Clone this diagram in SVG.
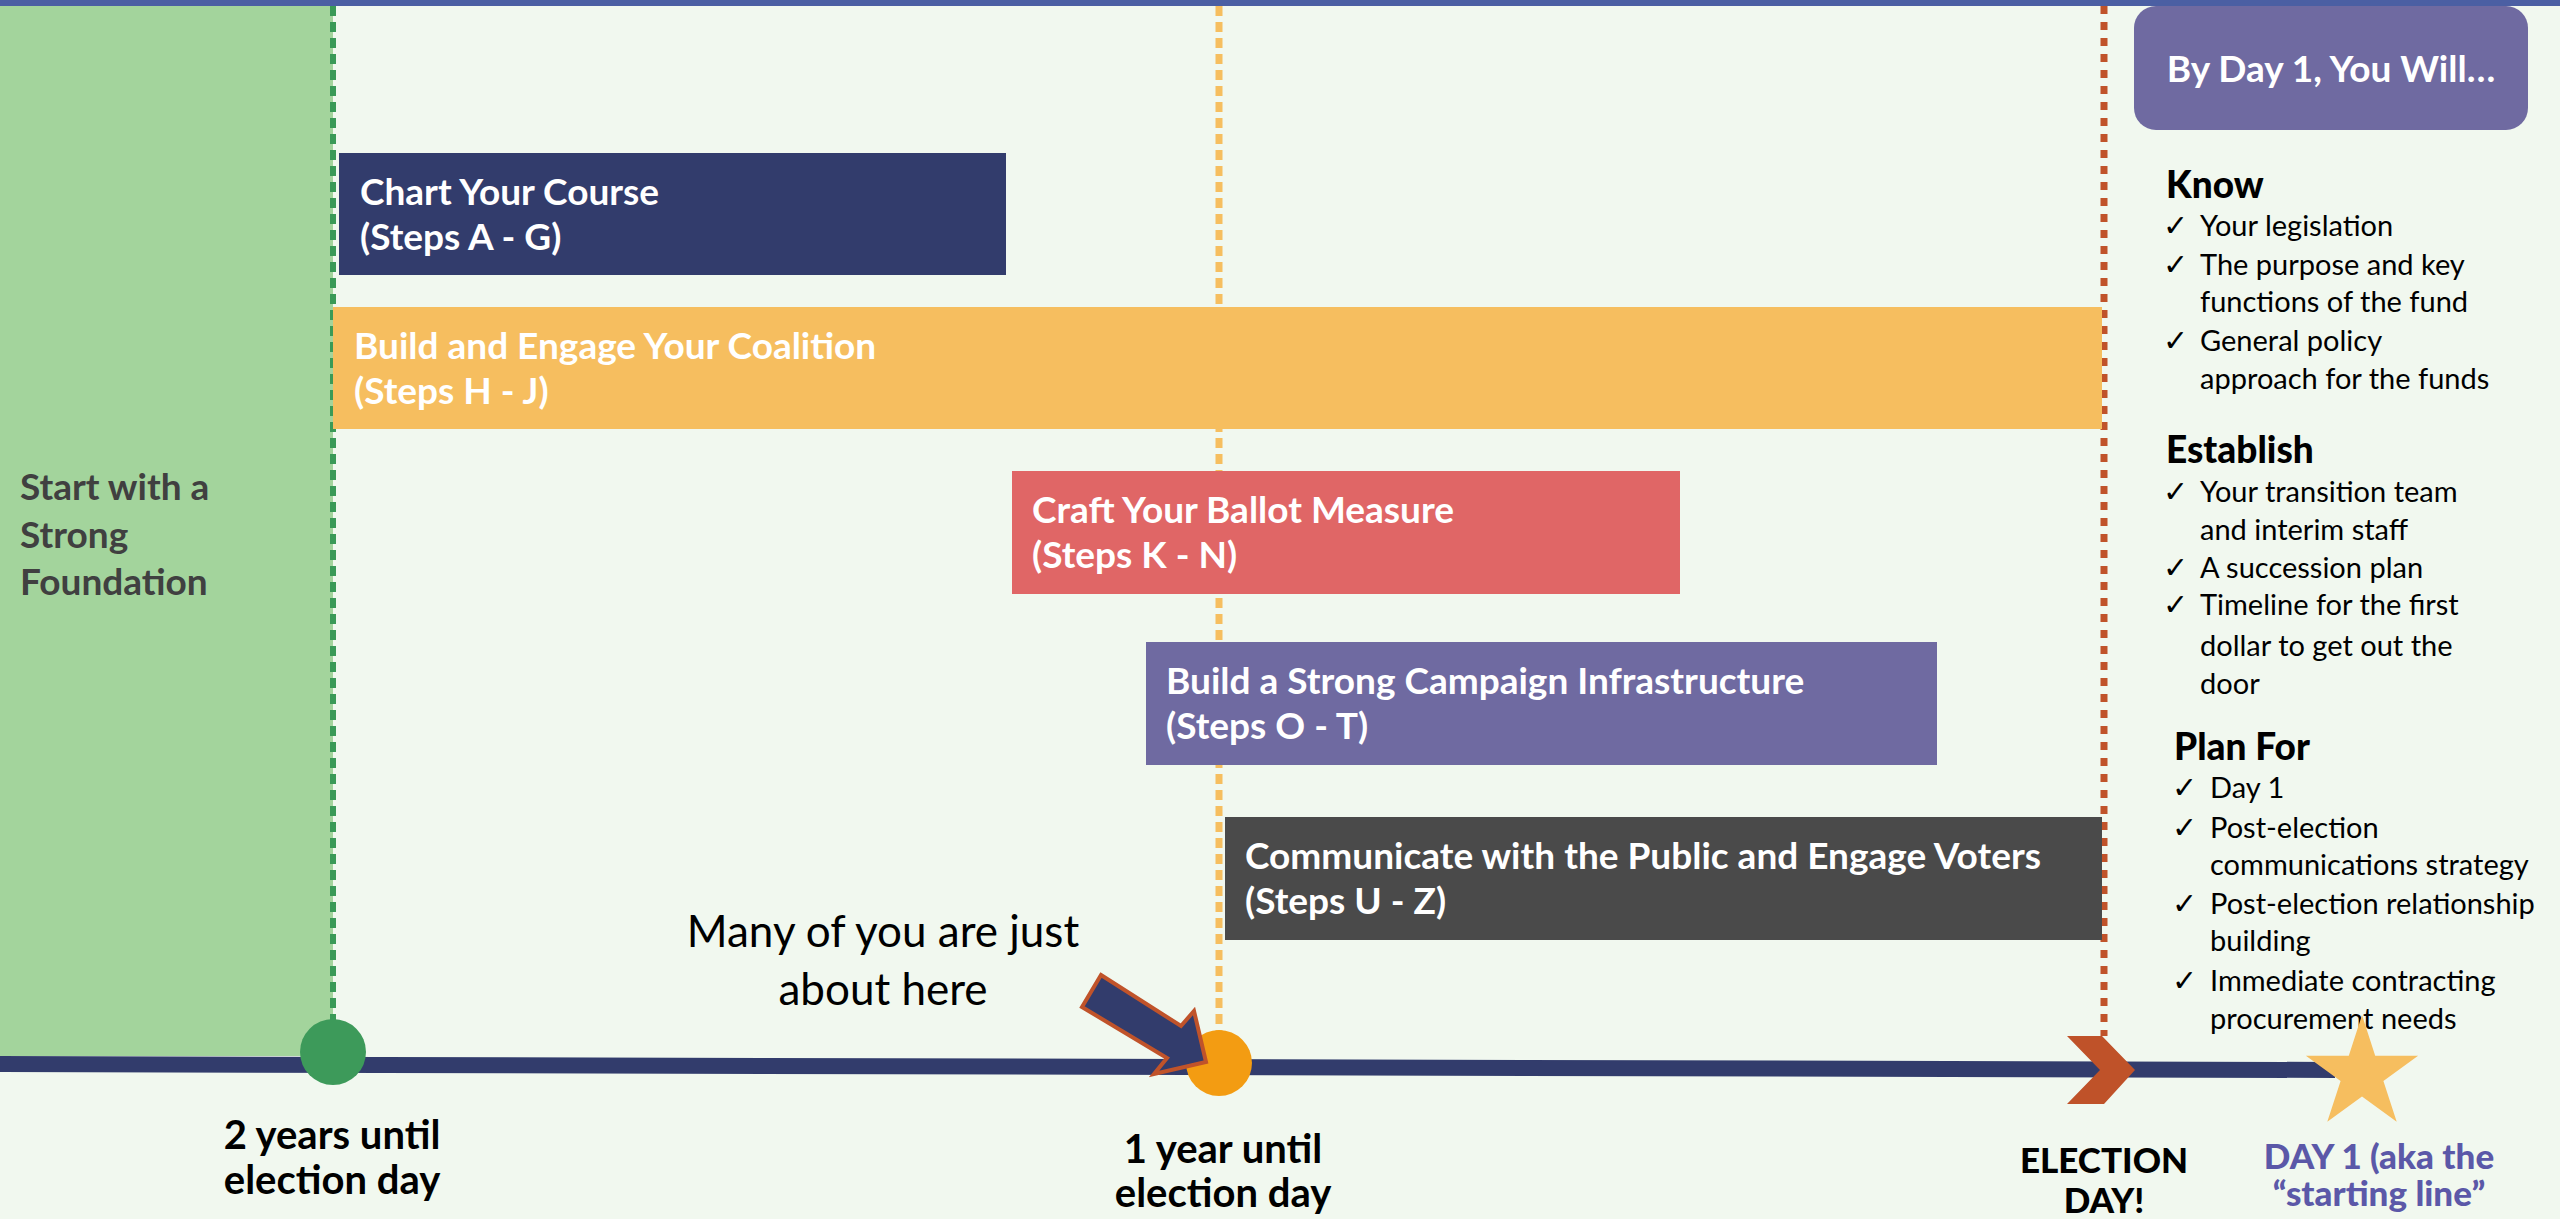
<svg xmlns="http://www.w3.org/2000/svg" width="2560" height="1219" viewBox="0 0 2560 1219">
<defs>
<style>
.t{font-family:"Lato","Liberation Sans",sans-serif}
.bt{font-family:"Lato","Liberation Sans",sans-serif;font-weight:bold;font-size:37px;fill:#ffffff}
.hd{font-family:"Lato","Liberation Sans",sans-serif;font-weight:900;font-size:37px;fill:#000000}
.it{font-family:"Lato","Liberation Sans",sans-serif;font-size:29px;fill:#000000}
.ck{font-family:"DejaVu Sans",sans-serif;font-size:30px;font-weight:bold;fill:#000000}
.lb{font-family:"Lato","Liberation Sans",sans-serif;font-weight:bold;font-size:40px;fill:#000000;text-anchor:middle}
</style>
</defs>
<rect x="0" y="0" width="2560" height="1219" fill="#F1F8EF"/>
<rect x="0" y="0" width="2560" height="6" fill="#4B5FA3"/>

<g id="foundation">
<rect x="0" y="6" width="333" height="1050" fill="#A3D49C"/>
<text class="t" font-weight="bold" font-size="37" fill="#404040"><tspan x="20" y="500">Start with a</tspan><tspan x="20" y="548">Strong</tspan><tspan x="20" y="595">Foundation</tspan></text>
</g>

<g id="connectors">
<line x1="333" y1="6" x2="333" y2="1025" stroke="#3A9A57" stroke-width="6" stroke-dasharray="10 6"/>
<line x1="1219" y1="6" x2="1219" y2="1032" stroke="#F6BE5F" stroke-width="7" stroke-dasharray="10 6"/>
<line x1="2104" y1="6" x2="2104" y2="1036" stroke="#C0532A" stroke-width="7" stroke-dasharray="8 8"/>
<line x1="0" y1="1064" x2="2335" y2="1070" stroke="#323C6C" stroke-width="16"/>
</g>

<g id="chart-your-course">
<rect x="339" y="153" width="667" height="122" fill="#323C6C"/>
<text class="bt"><tspan x="360" y="205">Chart Your Course</tspan><tspan x="360" y="250">(Steps A - G)</tspan></text>
</g>

<g id="build-coalition">
<rect x="333" y="307" width="1769" height="122" fill="#F6BE5F"/>
<text class="bt"><tspan x="354" y="359">Build and Engage Your Coalition</tspan><tspan x="354" y="404">(Steps H - J)</tspan></text>
</g>

<g id="craft-ballot">
<rect x="1012" y="471" width="668" height="123" fill="#E06666"/>
<text class="bt"><tspan x="1032" y="523">Craft Your Ballot Measure</tspan><tspan x="1032" y="568">(Steps K - N)</tspan></text>
</g>

<g id="campaign-infrastructure">
<rect x="1146" y="642" width="791" height="123" fill="#6F6AA1"/>
<text class="bt"><tspan x="1166" y="694">Build a Strong Campaign Infrastructure</tspan><tspan x="1166" y="739">(Steps O - T)</tspan></text>
</g>

<g id="communicate">
<rect x="1225" y="817" width="877" height="123" fill="#4A4A4A"/>
<text class="bt"><tspan x="1245" y="869">Communicate with the Public and Engage Voters</tspan><tspan x="1245" y="914">(Steps U - Z)</tspan></text>
</g>

<g id="two-years">
<circle cx="333" cy="1052" r="33" fill="#3D9A5A"/>
<text class="lb"><tspan x="332" y="1149">2 years until</tspan><tspan x="332" y="1194">election day</tspan></text>
</g>

<g id="one-year">
<circle cx="1219" cy="1063" r="33" fill="#F39C12"/>
<text class="lb"><tspan x="1223" y="1163">1 year until</tspan><tspan x="1223" y="1207">election day</tspan></text>
</g>

<g id="you-are-here">
<text class="t" font-size="44" fill="#000000" text-anchor="middle"><tspan x="883" y="947">Many of you are just</tspan><tspan x="883" y="1005">about here</tspan></text>
<polygon points="1101,975 1181,1026 1194,1011 1206,1062 1154,1074 1167,1058 1082,1007" fill="#323C6C" stroke="#C0532A" stroke-width="4" stroke-linejoin="miter"/>
</g>

<g id="election-day">
<polygon points="2067,1036 2102,1036 2135,1070 2104,1104 2067,1104 2100,1070" fill="#BF5229"/>
<text class="lb" style="font-size:35px;font-weight:900"><tspan x="2104" y="1173">ELECTION</tspan><tspan x="2104" y="1213">DAY!</tspan></text>
</g>

<g id="day-one-panel">
<rect x="2134" y="6" width="394" height="124" rx="22" ry="22" fill="#6F6AA1"/>
<text class="t" font-weight="bold" font-size="37" fill="#ffffff" text-anchor="middle" x="2331" y="82">By Day 1, You Will…</text>
<text class="hd" x="2166" y="198">Know</text>
<text class="ck" x="2163" y="236">✓</text><text class="it" x="2200" y="236">Your legislation</text>
<text class="ck" x="2163" y="275">✓</text><text class="it" x="2200" y="275">The purpose and key</text>
<text class="it" x="2200" y="312">functions of the fund</text>
<text class="ck" x="2163" y="351">✓</text><text class="it" x="2200" y="351">General policy</text>
<text class="it" x="2200" y="389">approach for the funds</text>
<text class="hd" x="2166" y="463">Establish</text>
<text class="ck" x="2163" y="502">✓</text><text class="it" x="2200" y="502">Your transition team</text>
<text class="it" x="2200" y="540">and interim staff</text>
<text class="ck" x="2163" y="578">✓</text><text class="it" x="2200" y="578">A succession plan</text>
<text class="ck" x="2163" y="615">✓</text><text class="it" x="2200" y="615">Timeline for the first</text>
<text class="it" x="2200" y="656">dollar to get out the</text>
<text class="it" x="2200" y="694">door</text>
<text class="hd" x="2174" y="760">Plan For</text>
<text class="ck" x="2172" y="798">✓</text><text class="it" x="2210" y="798">Day 1</text>
<text class="ck" x="2172" y="838">✓</text><text class="it" x="2210" y="838">Post-election</text>
<text class="it" x="2210" y="875">communications strategy</text>
<text class="ck" x="2172" y="914">✓</text><text class="it" x="2210" y="914">Post-election relationship</text>
<text class="it" x="2210" y="951">building</text>
<text class="ck" x="2172" y="991">✓</text><text class="it" x="2210" y="991">Immediate contracting</text>
<text class="it" x="2210" y="1029">procurement needs</text>
</g>

<g id="day-one">
<polygon points="2362,1015 2375.2,1055.8 2418.1,1055.8 2383.4,1081 2396.7,1121.7 2362,1096.5 2327.3,1121.7 2340.6,1081 2305.9,1055.8 2348.8,1055.8" fill="#F6BE5F"/>
<text class="lb" style="font-size:35px;font-weight:900;fill:#5B58A8"><tspan x="2379" y="1169">DAY 1 (aka the</tspan><tspan x="2379" y="1206">“starting line”</tspan></text>
</g>
</svg>
